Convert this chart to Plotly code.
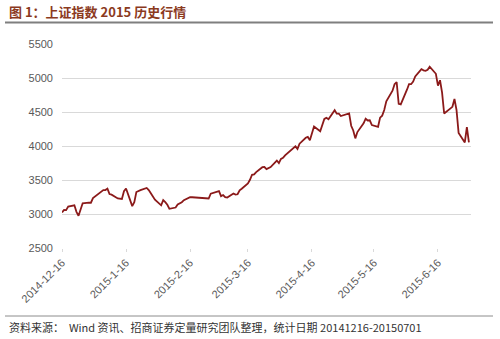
import plotly.graph_objects as go

dates = [
"2014-12-16","2014-12-17","2014-12-18","2014-12-19","2014-12-22","2014-12-23","2014-12-24","2014-12-25","2014-12-26",
"2014-12-29","2014-12-30","2014-12-31",
"2015-01-05","2015-01-06","2015-01-07","2015-01-08","2015-01-09",
"2015-01-12","2015-01-13","2015-01-14","2015-01-15","2015-01-16",
"2015-01-19","2015-01-20","2015-01-21","2015-01-22","2015-01-23",
"2015-01-26","2015-01-27","2015-01-28","2015-01-29","2015-01-30",
"2015-02-02","2015-02-03","2015-02-04","2015-02-05","2015-02-06",
"2015-02-09","2015-02-10","2015-02-11","2015-02-12","2015-02-13",
"2015-02-16","2015-02-17",
"2015-02-25","2015-02-26","2015-02-27",
"2015-03-02","2015-03-03","2015-03-04","2015-03-05","2015-03-06",
"2015-03-09","2015-03-10","2015-03-11","2015-03-12","2015-03-13",
"2015-03-16","2015-03-17","2015-03-18","2015-03-19","2015-03-20",
"2015-03-23","2015-03-24","2015-03-25","2015-03-26","2015-03-27",
"2015-03-30","2015-03-31","2015-04-01","2015-04-02","2015-04-03",
"2015-04-07","2015-04-08","2015-04-09","2015-04-10",
"2015-04-13","2015-04-14","2015-04-15","2015-04-16","2015-04-17",
"2015-04-20","2015-04-21","2015-04-22","2015-04-23","2015-04-24",
"2015-04-27","2015-04-28","2015-04-29","2015-04-30",
"2015-05-04","2015-05-05","2015-05-06","2015-05-07","2015-05-08",
"2015-05-11","2015-05-12","2015-05-13","2015-05-14","2015-05-15",
"2015-05-18","2015-05-19","2015-05-20","2015-05-21","2015-05-22",
"2015-05-25","2015-05-26","2015-05-27","2015-05-28","2015-05-29",
"2015-06-01","2015-06-02","2015-06-03","2015-06-04","2015-06-05",
"2015-06-08","2015-06-09","2015-06-10","2015-06-11","2015-06-12",
"2015-06-15","2015-06-16","2015-06-17","2015-06-18","2015-06-19",
"2015-06-23","2015-06-24","2015-06-25","2015-06-26",
"2015-06-29","2015-06-30","2015-07-01",
]
values = [
3021,3061,3057,3108,3128,3032,2973,3072,3157,
3168,3166,3235,
3351,3352,3374,3293,3285,
3229,3223,3222,3336,3376,
3116,3173,3323,3343,3351,
3383,3352,3305,3262,3210,
3128,3204,3175,3136,3076,
3095,3141,3157,3173,3203,
3247,3246,
3228,3298,3310,
3336,3263,3279,3248,3241,
3302,3286,3290,3349,3372,
3449,3503,3577,3582,3617,
3688,3691,3661,3682,3691,
3786,3748,3810,3825,3863,
3961,3995,3957,4034,
4121,4135,4084,4194,4287,
4217,4293,4398,4414,4394,
4527,4476,4476,4441,
4480,4298,4229,4112,4205,
4333,4401,4375,4378,4308,
4283,4417,4446,4529,4657,
4813,4910,4941,4620,4611,
4828,4910,4909,4947,5023,
5131,5113,5106,5121,5166,
5062,4887,4967,4786,4478,
4576,4691,4527,4193,
4053,4277,4053,
]
x_ticks = ["2014-12-16","2015-01-16","2015-02-16","2015-03-16","2015-04-16","2015-05-16","2015-06-16"]
x_ticklabels = ["2014-12-16","2015-1-16","2015-2-16","2015-3-16","2015-4-16","2015-5-16","2015-6-16"]
y_ticks = [2500,3000,3500,4000,4500,5000,5500]

title_text = "图 1：上证指数 2015 历史行情"
source_text = "资料来源：  Wind 资讯、招商证券定量研究团队整理，统计日期 20141216-20150701"

W, H = 500, 339
L, R, T, B = 62, 29, 44, 91
pw, ph = W - L - R, H - T - B

def px(x):
    return (x - L) / pw

def py(y):
    return (H - B - y) / ph

fig = go.Figure()
fig.add_trace(go.Scatter(x=dates, y=values, mode="lines",
                         line=dict(color="#8B1A1A", width=1.8), hoverinfo="skip"))

fig.update_layout(
    width=W, height=H,
    margin=dict(l=L, r=R, t=T, b=B),
    paper_bgcolor="white", plot_bgcolor="white",
    showlegend=False,
    font=dict(family="Liberation Sans, Arial, sans-serif", color="#595959", size=11),
    xaxis=dict(type="date", range=["2014-12-16", "2015-07-02"],
               tickvals=x_ticks, ticktext=x_ticklabels, tickangle=-45,
               showgrid=False, showline=False, zeroline=False,
               ticks="outside", ticklen=3, tickcolor="#D9D9D9", tickwidth=1,
               tickfont=dict(size=11, color="#595959")),
    yaxis=dict(range=[2500, 5500], tickvals=y_ticks, showgrid=True,
               gridcolor="#D9D9D9", gridwidth=1, zeroline=False, showline=False,
               ticks="", ticklabelstandoff=8, tickfont=dict(size=11, color="#595959")),
    shapes=[
        dict(type="line", xref="paper", yref="paper", x0=px(5), x1=px(493), y0=py(22.5), y1=py(22.5),
             line=dict(color="#7F7F7F", width=2)),
        dict(type="line", xref="paper", yref="paper", x0=px(5), x1=px(493), y0=py(316), y1=py(316),
             line=dict(color="#8C8C8C", width=1)),
    ],
    annotations=[
        dict(text="<b>" + title_text + "</b>", xref="paper", yref="paper", x=px(7), y=py(12),
             xanchor="left", yanchor="middle", showarrow=False,
             font=dict(family="Noto Sans CJK SC", size=13, color="#8B3A1E")),
        dict(text=source_text, xref="paper", yref="paper", x=px(7), y=py(327),
             xanchor="left", yanchor="middle", showarrow=False,
             font=dict(family="Noto Sans CJK SC", size=11, color="#333333")),
    ],
)

fig.write_html("out.html")
